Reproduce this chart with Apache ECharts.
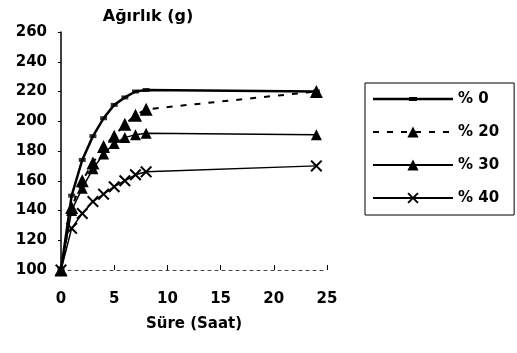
<!DOCTYPE html>
<html><head><meta charset="utf-8">
<script src="https://cdn.jsdelivr.net/npm/echarts@6/dist/echarts.min.js"></script>
<style>html,body{margin:0;padding:0;background:#fff}#c{width:517px;height:353px}</style>
</head><body><div id="c"></div>
<script>
var hours = [0, 1, 2, 3, 4, 5, 6, 7, 8, 24];
var seriesNames = ['% 0', '% 20', '% 30', '% 40'];
var p0  = [100, 150, 174, 190, 202, 211, 216, 220, 221, 220];
var p20 = [100, 142, 160, 172, 183, 190, 198, 204, 208, 220];
var p30 = [100, 140, 155, 168, 178, 185, 189, 191, 192, 191];
var p40 = [100, 128, 138, 146, 151, 156, 160, 164, 166, 170];
var yTitle = 'Ağırlık (g)';
var xTitle = 'Süre (Saat)';

function pairs(v){ return hours.map(function(h,i){ return [h, v[i]]; }); }
var FONT = 'DejaVu Sans';
var FW = 'bold';
var xPath = 'path://M0,1.2 L1.2,0 L5,3.8 L8.8,0 L10,1.2 L6.2,5 L10,8.8 L8.8,10 L5,6.2 L1.2,10 L0,8.8 L3.8,5 Z';
var legend0Icon = 'path://M0,0 L0.01,0 L0,0.01 Z M80,14 L79.99,14 L80,13.99 Z M0,5.8 L80,5.8 L80,8.2 L0,8.2 Z M36,5 L44,5 L44,9 L36,9 Z';

var chart = echarts.init(document.getElementById('c'), null, {renderer:'canvas'});
chart.setOption({
  animation: false,
  backgroundColor: '#fff',
  title: { text: yTitle, left: 143, top: 4, textAlign: 'center',
    textStyle: { fontFamily: FONT, fontSize: 16, fontWeight: FW, color: '#000' } },
  grid: { left: 61, right: 190, top: 32, bottom: 83 },
  legend: {
    orient: 'vertical', left: 365, top: 83,
    padding: [7, 15, 8, 7],
    itemWidth: 80, itemHeight: 14, itemGap: 15,
    borderColor: '#000', borderWidth: 1,
    textStyle: { fontFamily: FONT, fontSize: 15, fontWeight: FW, color: '#000', lineHeight: 18 },
    data: [{ name: seriesNames[0], icon: legend0Icon }, seriesNames[1], seriesNames[2], seriesNames[3]]
  },
  xAxis: {
    type: 'value', min: 0, max: 25, interval: 5,
    name: xTitle, nameLocation: 'middle', nameGap: 47,
    nameTextStyle: { fontFamily: FONT, fontSize: 15, fontWeight: FW, color: '#000' },
    axisLine: { lineStyle: { color: '#444', width: 1, type: [3, 4] } },
    axisTick: { show: true, length: 5, inside: true, lineStyle: { color: '#000', width: 1 } },
    axisLabel: { fontFamily: FONT, fontSize: 15, fontWeight: FW, color: '#000', margin: 22 },
    splitLine: { show: false }
  },
  yAxis: {
    type: 'value', min: 100, max: 260, interval: 20,
    axisLine: { show: true, lineStyle: { color: '#000', width: 1.5 } },
    axisTick: { show: true, length: 3, lineStyle: { color: '#000' } },
    axisLabel: { fontFamily: FONT, fontSize: 15, fontWeight: FW, color: '#000', margin: 14 },
    splitLine: { show: false }
  },
  series: [
    { name: seriesNames[0], type: 'line', data: pairs(p0), smooth: false,
      symbol: 'none', itemStyle: { color: '#000' },
      lineStyle: { color: '#000', width: 2.5 }, z: 5 },
    { name: seriesNames[0], type: 'scatter', data: pairs(p0),
      symbol: 'rect', symbolSize: [7, 4], itemStyle: { color: '#000' }, z: 6 },
    { name: seriesNames[1], type: 'line', data: pairs(p20),
      symbol: 'triangle', symbolSize: 13, itemStyle: { color: '#000' },
      lineStyle: { color: '#000', width: 2, type: [6, 8] }, z: 4 },
    { name: seriesNames[2], type: 'line', data: pairs(p30),
      symbol: 'triangle', symbolSize: 11, itemStyle: { color: '#000' },
      lineStyle: { color: '#000', width: 1.5 }, z: 3 },
    { name: seriesNames[3], type: 'line', data: pairs(p40),
      symbol: xPath, symbolSize: 12, itemStyle: { color: '#000' },
      lineStyle: { color: '#000', width: 1.5 }, z: 2 }
  ]
});
</script></body></html>
